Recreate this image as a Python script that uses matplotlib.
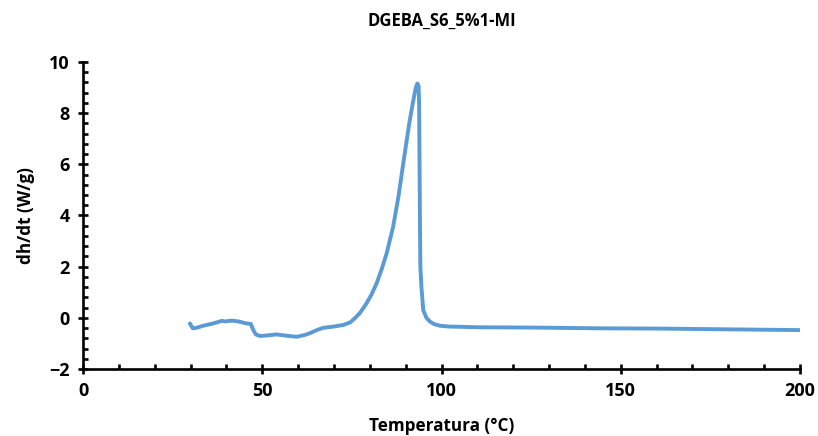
import matplotlib
matplotlib.use("Agg")
import matplotlib.pyplot as plt
from matplotlib.ticker import MultipleLocator

# DSC curve, heat flow vs temperature
temperatura = [29.8, 30.6, 31.7, 33.5, 36.3, 38.7, 39.6, 41.5, 43.3, 45.6, 46.8, 47.5,
               48.2, 49.4, 51.3, 54.0, 56.8, 59.6, 61.9, 63.3, 65.2, 67.0, 69.5, 72.6,
               74.5, 75.8, 77.3, 79.1, 80.5, 81.9, 83.3, 84.7, 86.5, 88.0, 89.5, 91.0,
               92.0, 92.6, 93.0, 93.3, 93.6, 93.75, 93.85, 94.0, 94.1, 94.4, 94.9, 95.8, 96.8,
               98.0, 99.6, 102.0, 110.7, 125.0, 144.0, 160.0, 180.0, 200.0]
dhdt = [-0.22, -0.41, -0.39, -0.31, -0.22, -0.12, -0.14, -0.11, -0.14, -0.22, -0.24, -0.48,
        -0.65, -0.71, -0.69, -0.65, -0.70, -0.74, -0.67, -0.60, -0.48, -0.39, -0.35, -0.28,
        -0.18, -0.02, 0.20, 0.57, 0.92, 1.35, 1.90, 2.52, 3.56, 4.75, 6.20, 7.60,
        8.40, 8.85, 9.08, 9.16, 9.05, 8.40, 6.50, 3.50, 2.00, 1.20, 0.30, 0.00, -0.15,
        -0.25, -0.31, -0.34, -0.37, -0.38, -0.41, -0.42, -0.45, -0.48]

titulo = "DGEBA_S6_5%1-MI"

plt.rcParams['font.family'] = ['Open Sans', 'DejaVu Sans']

fig = plt.figure(figsize=(8.18, 4.36), dpi=100)
ax = fig.add_axes([0.1015, 0.1537, 0.8765, 0.7041])

ax.plot(temperatura, dhdt, color='#5B9BD5', lw=2.8, solid_capstyle='round',
        solid_joinstyle='round')

ax.set_xlim(0, 200)
ax.set_ylim(-2, 10)
ax.xaxis.set_major_locator(MultipleLocator(50))
ax.xaxis.set_minor_locator(MultipleLocator(10))
ax.yaxis.set_major_locator(MultipleLocator(2))
ax.yaxis.set_minor_locator(MultipleLocator(0.4))

for s in ['top', 'right']:
    ax.spines[s].set_visible(False)
for s in ['left', 'bottom']:
    ax.spines[s].set_linewidth(1.9)

ax.tick_params(which='major', direction='inout', length=7, width=1.9,
               labelsize=13, pad=6)
ax.tick_params(which='minor', direction='in', length=3.5, width=1.9)
for lab in ax.get_xticklabels() + ax.get_yticklabels():
    lab.set_fontweight('bold')

ax.set_title(titulo, fontsize=12, fontweight='bold', pad=26)
ax.set_xlabel("Temperatura (°C)", fontsize=12.3, fontweight='bold', labelpad=12)
ax.set_ylabel("dh/dt (W/g)", fontsize=12.3, fontweight='bold', labelpad=10)

fig.savefig("out.png", dpi=100)
